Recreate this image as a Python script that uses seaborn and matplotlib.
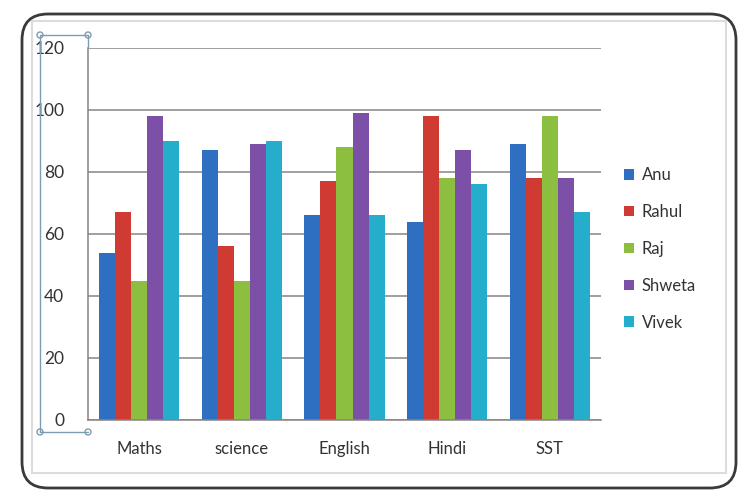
import matplotlib
matplotlib.use("Agg")
import matplotlib.pyplot as plt
from matplotlib.patches import FancyBboxPatch, Rectangle, Circle
from matplotlib.lines import Line2D
import seaborn as sns
import pandas as pd

# Marks per subject for each student
subjects = ["Maths", "science", "English", "Hindi", "SST"]
students = ["Anu", "Rahul", "Raj", "Shweta", "Vivek"]
anu = [54, 87, 66, 64, 89]
rahul = [67, 56, 77, 98, 78]
raj = [45, 45, 88, 78, 98]
shweta = [98, 89, 99, 87, 78]
vivek = [90, 90, 66, 76, 67]
y_ticks = [0, 20, 40, 60, 80, 100, 120]

colors = ["#2f6fc2", "#cf3a33", "#8cbf3f", "#7b50a6", "#25aecb"]

rows = []
for name, vals in zip(students, [anu, rahul, raj, shweta, vivek]):
    for subj, v in zip(subjects, vals):
        rows.append({"Subject": subj, "Student": name, "Marks": v})
df = pd.DataFrame(rows)

sns.set_style("white")
plt.rcParams["font.family"] = ["Lato", "DejaVu Sans"]

W, H = 745, 493
fig = plt.figure(figsize=(W / 100, H / 100), dpi=100)
fig.patch.set_facecolor("white")

# Rounded chart frame
outer = FancyBboxPatch((22 / W, 5 / H), 714 / W, 474 / H,
                       boxstyle="round,pad=0,rounding_size=0.035",
                       transform=fig.transFigure, fill=False,
                       edgecolor="#3a3a3a", linewidth=2.0, mutation_aspect=W / H)
fig.patches.append(outer)
inner = Rectangle((32 / W, 20 / H), 694 / W, 452 / H, transform=fig.transFigure,
                  fill=False, edgecolor="#dcdcdc", linewidth=1.5)
fig.patches.append(inner)

ax = fig.add_axes([88 / W, 1 - 420 / H, (601 - 88) / W, (420 - 48) / H])
sns.barplot(data=df, x="Subject", y="Marks", hue="Student", order=subjects,
            hue_order=students, palette=colors, saturation=1, width=0.78,
            linewidth=0, ax=ax, legend=True)

ax.set_xlim(-0.5, len(subjects) - 0.5)
ax.set_ylim(0, 120)
ax.set_yticks(y_ticks)
ax.set_xlabel("")
ax.set_ylabel("")
ax.yaxis.grid(True, color="#8c8282", linewidth=1.1)
ax.set_axisbelow(True)
for side in ["top", "right"]:
    ax.spines[side].set_visible(False)
for side in ["left", "bottom"]:
    ax.spines[side].set_color("#8c8282")
    ax.spines[side].set_linewidth(1.1)

ax.tick_params(axis="y", length=5, color="#8c8282", pad=12, labelsize=12.5,
               labelcolor="#333333")
ax.tick_params(axis="x", length=0, pad=15, labelsize=12, labelcolor="#333333")
ax.set_xticks([i - 0.5 for i in range(len(subjects) + 1)], minor=True)
ax.tick_params(axis="x", which="minor", length=6, color="#8c8282")

leg = ax.legend(loc="center left", bbox_to_anchor=(1.045, 0.46), frameon=False,
                borderaxespad=0, borderpad=0,
                handlelength=0.6, handleheight=0.6, handletextpad=0.45,
                labelspacing=1.25, fontsize=12)
for t in leg.get_texts():
    t.set_color("#333333")

# Selection handles around the vertical axis
sel = "#7f9bb0"
x0, x1, y0, y1 = 40 / W, 88 / W, 1 - 432 / H, 1 - 35 / H
for (xa, ya, xb, yb) in [(x0, y0, x0, y1), (x0, y1, x1, y1), (x0, y0, x1, y0),
                         (x1, y1, x1, 1 - 48 / H)]:
    fig.lines.append(Line2D([xa, xb], [ya, yb], transform=fig.transFigure,
                            color=sel, linewidth=1.0))
for (xc, yc) in [(x0, y0), (x0, y1), (x1, y0), (x1, y1)]:
    fig.patches.append(Circle((xc * W, yc * H), 3, transform=None,
                              fill=False, edgecolor=sel, linewidth=1.0))

fig.savefig("out.png", dpi=100, facecolor="white")
